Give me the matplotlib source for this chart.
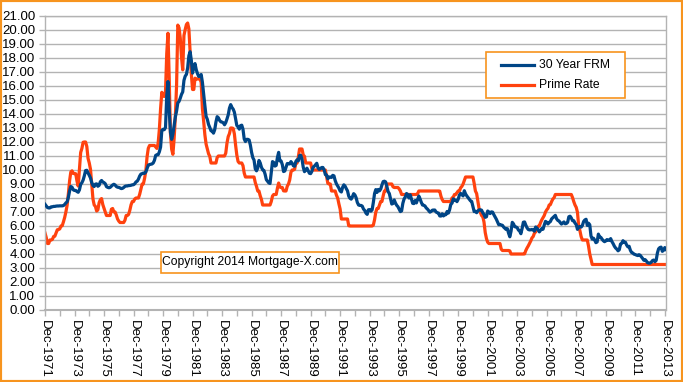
import numpy as np
import matplotlib
matplotlib.use('Agg')
import matplotlib.pyplot as plt
from matplotlib.patches import Rectangle
from matplotlib.lines import Line2D

# monthly values, Dec-1971 .. Jan-2014
frm = [7.55,
       7.44, 7.32, 7.29, 7.29, 7.37, 7.37, 7.40, 7.40, 7.42, 7.43, 7.43, 7.44,  # 1972
       7.44, 7.44, 7.46, 7.54, 7.65, 7.73, 8.05, 8.50, 8.82, 8.77, 8.58, 8.54,  # 1973
       8.54, 8.46, 8.41, 8.58, 8.97, 9.09, 9.28, 9.59, 9.96, 9.98, 9.79, 9.62,  # 1974
       9.43, 9.10, 8.89, 8.82, 8.99, 9.01, 8.84, 8.90, 9.16, 9.25, 9.14, 9.10,  # 1975
       9.02, 8.81, 8.76, 8.73, 8.76, 8.85, 8.93, 8.98, 8.93, 8.82, 8.77, 8.76,  # 1976
       8.72, 8.67, 8.69, 8.75, 8.83, 8.86, 8.86, 8.89, 8.89, 8.91, 8.94, 8.95,  # 1977
       9.02, 9.15, 9.20, 9.35, 9.57, 9.71, 9.74, 9.78, 9.76, 9.86, 10.11, 10.35,  # 1978
       10.39, 10.41, 10.43, 10.50, 10.69, 11.04, 11.09, 11.09, 11.30, 11.64, 12.83, 12.90,  # 1979
       12.88, 13.04, 15.28, 16.32, 14.26, 12.71, 12.19, 12.56, 13.20, 13.79, 14.21, 14.79,  # 1980
       14.90, 15.13, 15.40, 15.58, 16.40, 16.70, 16.83, 17.29, 18.16, 18.45, 17.83, 16.92,  # 1981
       17.40, 17.60, 17.16, 16.89, 16.68, 16.70, 16.82, 16.27, 15.43, 14.61, 13.83, 13.62,  # 1982
       13.25, 13.04, 12.80, 12.78, 12.63, 12.87, 13.42, 13.81, 13.73, 13.54, 13.44, 13.42,  # 1983
       13.37, 13.23, 13.39, 13.65, 13.94, 14.42, 14.67, 14.47, 14.35, 14.13, 13.64, 13.18,  # 1984
       13.08, 12.92, 13.17, 13.20, 12.91, 12.22, 12.03, 12.19, 12.19, 12.14, 11.78, 11.26,  # 1985
       10.88, 10.71, 10.08, 9.94, 10.14, 10.68, 10.51, 10.20, 10.01, 9.97, 9.70, 9.31,  # 1986
       9.20, 9.08, 9.04, 9.83, 10.60, 10.54, 10.28, 10.33, 10.89, 11.26, 10.65, 10.64,  # 1987
       10.38, 9.89, 9.93, 10.20, 10.46, 10.46, 10.43, 10.60, 10.48, 10.30, 10.27, 10.61,  # 1988
       10.73, 10.65, 11.03, 11.05, 10.77, 10.20, 9.88, 9.99, 10.13, 9.95, 9.77, 9.74,  # 1989
       9.90, 10.20, 10.27, 10.37, 10.48, 10.16, 10.04, 10.10, 10.18, 10.18, 10.01, 9.67,  # 1990
       9.64, 9.37, 9.50, 9.49, 9.47, 9.62, 9.58, 9.24, 9.01, 8.86, 8.71, 8.50,  # 1991
       8.43, 8.76, 8.94, 8.85, 8.67, 8.51, 8.13, 7.98, 7.92, 8.09, 8.31, 8.22,  # 1992
       8.02, 7.68, 7.50, 7.47, 7.47, 7.42, 7.21, 7.11, 6.92, 6.83, 7.16, 7.17,  # 1993
       7.06, 7.15, 7.68, 8.32, 8.60, 8.40, 8.61, 8.51, 8.64, 8.93, 9.17, 9.20,  # 1994
       9.15, 8.83, 8.46, 8.32, 7.96, 7.57, 7.61, 7.86, 7.64, 7.48, 7.38, 7.20,  # 1995
       7.03, 7.08, 7.62, 7.93, 8.07, 8.32, 8.25, 8.00, 8.23, 7.92, 7.62, 7.60,  # 1996
       7.82, 7.65, 7.90, 8.14, 7.94, 7.69, 7.50, 7.48, 7.43, 7.29, 7.21, 7.10,  # 1997
       6.99, 7.04, 7.13, 7.14, 7.14, 7.00, 6.95, 6.92, 6.72, 6.71, 6.87, 6.72,  # 1998
       6.79, 6.81, 7.04, 6.92, 7.15, 7.55, 7.63, 7.94, 7.82, 7.85, 7.74, 7.91,  # 1999
       8.21, 8.33, 8.24, 8.15, 8.52, 8.29, 8.15, 8.03, 7.91, 7.80, 7.75, 7.38,  # 2000
       7.03, 7.05, 6.95, 7.08, 7.15, 7.16, 7.13, 6.95, 6.82, 6.62, 6.66, 7.07,  # 2001
       7.00, 6.89, 7.01, 6.99, 6.81, 6.65, 6.49, 6.29, 6.09, 6.11, 6.07, 6.05,  # 2002
       5.92, 5.84, 5.75, 5.81, 5.48, 5.23, 5.63, 6.26, 6.15, 5.95, 5.93, 5.88,  # 2003
       5.71, 5.64, 5.45, 5.83, 6.27, 6.29, 6.06, 5.87, 5.75, 5.72, 5.73, 5.75,  # 2004
       5.71, 5.63, 5.93, 5.86, 5.72, 5.58, 5.70, 5.82, 5.77, 6.07, 6.33, 6.27,  # 2005
       6.15, 6.25, 6.32, 6.51, 6.60, 6.68, 6.76, 6.52, 6.40, 6.36, 6.24, 6.14,  # 2006
       6.22, 6.29, 6.16, 6.18, 6.26, 6.66, 6.70, 6.57, 6.38, 6.38, 6.21, 6.10,  # 2007
       5.76, 5.92, 5.97, 5.92, 6.04, 6.32, 6.43, 6.48, 6.04, 6.20, 6.09, 5.29,  # 2008
       5.06, 5.13, 5.00, 4.81, 4.86, 5.42, 5.22, 5.19, 5.06, 4.95, 4.88, 4.93,  # 2009
       5.03, 4.99, 4.97, 5.10, 4.89, 4.74, 4.56, 4.43, 4.35, 4.23, 4.30, 4.71,  # 2010
       4.76, 4.95, 4.84, 4.84, 4.64, 4.51, 4.55, 4.27, 4.11, 4.07, 3.99, 3.96,  # 2011
       3.92, 3.89, 3.95, 3.91, 3.80, 3.68, 3.55, 3.60, 3.50, 3.38, 3.35, 3.35,  # 2012
       3.41, 3.53, 3.57, 3.45, 3.54, 4.07, 4.37, 4.46, 4.49, 4.19, 4.26, 4.46,  # 2013
       4.33]

prime = [5.50,
         5.18, 4.75, 4.75, 5.00, 5.00, 5.04, 5.25, 5.27, 5.50, 5.73, 5.75, 5.79,  # 1972
         6.00, 6.02, 6.30, 6.61, 7.01, 7.49, 8.30, 9.23, 9.86, 9.94, 9.75, 9.75,  # 1973
         9.73, 9.21, 8.85, 10.02, 11.25, 11.54, 11.98, 12.00, 12.00, 11.68, 10.83, 10.50,  # 1974
         10.05, 8.96, 7.93, 7.50, 7.40, 7.07, 7.15, 7.66, 7.88, 7.96, 7.53, 7.26,  # 1975
         7.00, 6.75, 6.75, 6.75, 6.75, 7.20, 7.25, 7.01, 7.00, 6.78, 6.50, 6.35,  # 1976
         6.25, 6.25, 6.25, 6.25, 6.41, 6.75, 6.75, 6.83, 7.13, 7.52, 7.75, 7.75,  # 1977
         7.93, 8.00, 8.00, 8.00, 8.27, 8.63, 9.00, 9.01, 9.41, 9.94, 10.94, 11.55,  # 1978
         11.75, 11.75, 11.75, 11.75, 11.75, 11.65, 11.54, 11.91, 12.90, 14.39, 15.55, 15.30,  # 1979
         15.25, 15.63, 18.31, 19.77, 16.57, 12.63, 11.48, 11.12, 12.23, 13.79, 16.06, 20.35,  # 1980
         20.16, 19.43, 18.05, 17.15, 19.61, 20.03, 20.39, 20.50, 20.08, 18.45, 16.84, 15.75,  # 1981
         15.75, 16.56, 16.50, 16.50, 16.50, 16.50, 16.26, 14.39, 13.50, 12.52, 11.85, 11.50,  # 1982
         11.16, 10.98, 10.50, 10.50, 10.50, 10.50, 10.50, 10.89, 11.00, 11.00, 11.00, 11.00,  # 1983
         11.00, 11.00, 11.21, 11.93, 12.39, 12.60, 13.00, 13.00, 12.97, 12.58, 11.77, 11.06,  # 1984
         10.61, 10.50, 10.50, 10.50, 10.31, 9.78, 9.50, 9.50, 9.50, 9.50, 9.50, 9.50,  # 1985
         9.50, 9.50, 9.10, 8.83, 8.50, 8.50, 8.16, 7.90, 7.50, 7.50, 7.50, 7.50,  # 1986
         7.50, 7.50, 7.50, 7.75, 8.14, 8.25, 8.25, 8.25, 8.70, 9.07, 8.78, 8.75,  # 1987
         8.75, 8.51, 8.50, 8.50, 8.84, 9.00, 9.29, 9.84, 10.00, 10.00, 10.05, 10.50,  # 1988
         10.50, 10.93, 11.50, 11.50, 11.50, 11.07, 10.98, 10.50, 10.50, 10.50, 10.50, 10.50,  # 1989
         10.11, 10.00, 10.00, 10.00, 10.00, 10.00, 10.00, 10.00, 10.00, 10.00, 10.00, 10.00,  # 1990
         9.52, 9.05, 9.00, 9.00, 8.50, 8.50, 8.50, 8.50, 8.20, 8.00, 7.58, 7.21,  # 1991
         6.50, 6.50, 6.50, 6.50, 6.50, 6.50, 6.02, 6.00, 6.00, 6.00, 6.00, 6.00,  # 1992
         6.00, 6.00, 6.00, 6.00, 6.00, 6.00, 6.00, 6.00, 6.00, 6.00, 6.00, 6.00,  # 1993
         6.00, 6.00, 6.06, 6.45, 6.99, 7.25, 7.25, 7.51, 7.75, 7.75, 8.15, 8.50,  # 1994
         8.50, 9.00, 9.00, 9.00, 9.00, 9.00, 8.80, 8.75, 8.75, 8.75, 8.75, 8.65,  # 1995
         8.50, 8.25, 8.25, 8.25, 8.25, 8.25, 8.25, 8.25, 8.25, 8.25, 8.25, 8.25,  # 1996
         8.25, 8.25, 8.30, 8.50, 8.50, 8.50, 8.50, 8.50, 8.50, 8.50, 8.50, 8.50,  # 1997
         8.50, 8.50, 8.50, 8.50, 8.50, 8.50, 8.50, 8.50, 8.49, 8.12, 7.89, 7.75,  # 1998
         7.75, 7.75, 7.75, 7.75, 7.75, 7.75, 8.00, 8.06, 8.25, 8.25, 8.37, 8.50,  # 1999
         8.50, 8.73, 8.83, 9.00, 9.24, 9.50, 9.50, 9.50, 9.50, 9.50, 9.50, 9.50,  # 2000
         9.05, 8.50, 8.32, 7.80, 7.24, 6.98, 6.75, 6.67, 6.28, 5.53, 5.10, 4.84,  # 2001
         4.75, 4.75, 4.75, 4.75, 4.75, 4.75, 4.75, 4.75, 4.75, 4.75, 4.35, 4.25,  # 2002
         4.25, 4.25, 4.25, 4.25, 4.25, 4.22, 4.00, 4.00, 4.00, 4.00, 4.00, 4.00,  # 2003
         4.00, 4.00, 4.00, 4.00, 4.00, 4.01, 4.25, 4.43, 4.58, 4.75, 4.93, 5.15,  # 2004
         5.25, 5.49, 5.58, 5.75, 5.98, 6.01, 6.25, 6.44, 6.59, 6.75, 7.00, 7.15,  # 2005
         7.26, 7.50, 7.53, 7.75, 7.93, 8.02, 8.25, 8.25, 8.25, 8.25, 8.25, 8.25,  # 2006
         8.25, 8.25, 8.25, 8.25, 8.25, 8.25, 8.25, 8.25, 8.03, 7.74, 7.50, 7.33,  # 2007
         6.98, 6.00, 5.66, 5.24, 5.00, 5.00, 5.00, 5.00, 5.00, 4.56, 4.00, 3.61,  # 2008
         3.25, 3.25, 3.25, 3.25, 3.25, 3.25, 3.25, 3.25, 3.25, 3.25, 3.25, 3.25,  # 2009
         3.25, 3.25, 3.25, 3.25, 3.25, 3.25, 3.25, 3.25, 3.25, 3.25, 3.25, 3.25,  # 2010
         3.25, 3.25, 3.25, 3.25, 3.25, 3.25, 3.25, 3.25, 3.25, 3.25, 3.25, 3.25,  # 2011
         3.25, 3.25, 3.25, 3.25, 3.25, 3.25, 3.25, 3.25, 3.25, 3.25, 3.25, 3.25,  # 2012
         3.25, 3.25, 3.25, 3.25, 3.25, 3.25, 3.25, 3.25, 3.25, 3.25, 3.25, 3.25,  # 2013
         3.25]

first_year = 1971
last_year = 2013
series_names = ['30 Year FRM', 'Prime Rate']
copyright_text = 'Copyright 2014 Mortgage-X.com'

BLUE = '#004586'
RED = '#ff420e'
ORANGE = '#f7941e'
GRID = '#b3b3b3'

plt.rcParams['font.family'] = ['Liberation Sans', 'DejaVu Sans']

W, H = 683, 382


def fx(px):
    return px / W


def fy(py):
    return 1 - py / H


fig = plt.figure(figsize=(W / 100, H / 100), dpi=100)
fig.patches.append(Rectangle((0, 0), 1, 1, transform=fig.transFigure,
                             fill=False, edgecolor=ORANGE, linewidth=3))

# plot area in pixels: x 45..666, y 16..310
ax = fig.add_axes([fx(45), fy(310), 621 / W, 294 / H])

x = np.arange(len(frm))
ax.plot(x, frm, color=BLUE, linewidth=2.3, zorder=3)
ax.plot(x, prime, color=RED, linewidth=2.3, zorder=2)

ax.set_xlim(0, len(frm) - 1)
ax.set_ylim(0, 21)
ax.set_yticks(np.arange(0, 22, 1))
ax.set_yticklabels(['%.2f' % v for v in np.arange(0, 22, 1)])

n_years = last_year - first_year
ax.set_xticks(np.arange(0, n_years * 12 + 1, 24))
ax.set_xticklabels(['Dec-%d' % y for y in range(first_year, last_year + 1, 2)],
                   rotation=-90)
ax.set_xticks(np.arange(12, n_years * 12 + 1, 24), minor=True)

ax.grid(axis='y', color=GRID, linewidth=1.0)
ax.set_axisbelow(True)
for s in ax.spines.values():
    s.set_color(GRID)
    s.set_linewidth(1.0)
ax.spines['bottom'].set_linewidth(1.5)

ax.tick_params(axis='both', which='both', color=GRID, direction='out',
               length=4, width=1, labelsize=9.5, labelcolor='black')
ax.tick_params(axis='x', pad=3)
ax.tick_params(axis='y', pad=3)

# legend box (drawn by hand to match the original frame)
fig.patches.append(Rectangle((fx(486), fy(98)), 139 / W, 46 / H,
                             transform=fig.transFigure, facecolor='white',
                             edgecolor=ORANGE, linewidth=1.2, zorder=5))
for name, col, ly in zip(series_names, [BLUE, RED], [65, 85]):
    fig.lines.append(Line2D([fx(501), fx(534)], [fy(ly), fy(ly)],
                            transform=fig.transFigure, color=col,
                            linewidth=2.3, zorder=6))
    fig.text(fx(539), fy(ly), name, ha='left', va='center', fontsize=8.7,
             zorder=6)

# copyright box
fig.patches.append(Rectangle((fx(161), fy(273)), 178 / W, 21 / H,
                             transform=fig.transFigure, facecolor='white',
                             edgecolor=ORANGE, linewidth=1.2, zorder=5))
fig.text(fx(250), fy(262.5), copyright_text, ha='center', va='center',
         fontsize=8.7, zorder=6)

fig.savefig('out.png', dpi=100)
